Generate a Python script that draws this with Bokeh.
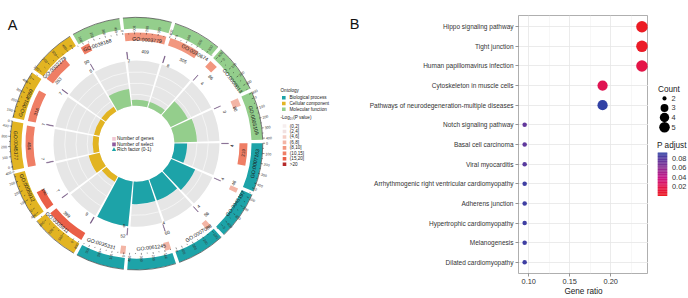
import math
from bokeh.plotting import figure
from bokeh.models import (Range1d, FactorRange, LinearColorMapper, ColumnDataSource,
                          FixedTicker, NumeralTickFormatter)
from bokeh.layouts import row
from bokeh.embed import file_html
from bokeh.resources import INLINE
from bokeh.core.properties import value
from bokeh.transform import transform

FONT = "Liberation Sans"

# ---------------- Panel A data (sectors clockwise, starting at 3 o'clock) ----------------
go_ids = ["GO:0007163", "GO:0045197", "GO:0007088", "GO:0061245", "GO:0035331",
          "GO:0005911", "GO:0005912", "GO:0045177", "GO:0014069", "GO:0032279",
          "GO:0038168", "GO:0003779", "GO:0030674", "GO:0008013", "GO:0005109"]
ontology = ["BP", "BP", "BP", "BP", "BP", "CC", "CC", "CC", "CC", "CC", "MF", "MF", "MF", "MF", "MF"]
gene_num = [219, 46, 56, 60, 52, 399, 192, 404, 316, 263, 90, 409, 305, 86, 80]
select_num = [4, 4, 4, 4, 5, 9, 7, 7, 7, 7, 5, 7, 8, 4, 3]
rich_factor = [0.28, 0.58, 0.50, 0.50, 1.00, 0.13, 0.25, 0.13, 0.12, 0.12, 0.38, 0.13, 0.13, 0.42, 0.50]
logp_level = [5, 3, 3, 3, 3, 6, 6, 5, 5, 5, 5, 4, 4, 4, 3]
axis_ticks = [0, 100, 200, 300, 400]
axis_minor = [50, 150, 250, 350]
axis_max = 420
ont_keys = ["BP", "CC", "MF"]
ont_names = ["Biological process", "Cellular component", "Molecular function"]
logp_labels = ["(0,2]", "(2,4]", "(4,6]", "(6,8]", "(8,10]", "(10,15]", "(15,20]", ">20"]
center_legend = ["Number of genes", "Number of select", "Rich factor (0-1)"]

# ---------------- Panel B data ----------------
pathways = ["Hippo signaling pathway", "Tight junction", "Human papillomavirus infection",
            "Cytoskeleton in muscle cells", "Pathways of neurodegeneration-multiple diseases",
            "Notch signaling pathway", "Basal cell carcinoma", "Viral myocarditis",
            "Arrhythmogenic right ventricular cardiomyopathy", "Adherens junction",
            "Hypertrophic cardiomyopathy", "Melanogenesis", "Dilated cardiomyopathy"]
gene_ratio = [0.238, 0.238, 0.238, 0.190, 0.190, 0.095, 0.095, 0.095, 0.095, 0.095, 0.095, 0.095, 0.095]
counts = [5, 5, 5, 4, 4, 2, 2, 2, 2, 2, 2, 2, 2]
p_adjust = [0.0005, 0.002, 0.018, 0.022, 0.0915, 0.075, 0.076, 0.079, 0.087, 0.087, 0.087, 0.087, 0.087]
x_ticks = [0.10, 0.15, 0.20]
x_minor = [0.125, 0.175, 0.225]
count_levels = [2, 3, 4, 5]
cbar_ticks = [0.02, 0.04, 0.06, 0.08]

# ---------------- styles ----------------
ONT_COL = {"BP": "#1DA3A8", "CC": "#E2B422", "MF": "#94CE8C"}
LOGP_COL = ["#F6EEEE", "#F1E1E1", "#F5CFC6", "#F3B5A5", "#F2977F", "#EF7E65", "#EA5F47", "#B52A2A"]
TXT = "#333333"

GAP = 1.6
START = 89.0
STEP = 360.0 / len(go_ids)


def sec_bounds(i):
    a0 = START + STEP * i + GAP / 2
    return a0, a0 + STEP - GAP


def bk(theta):
    return math.radians(90.0 - theta)


def pol(r, theta):
    t = math.radians(theta)
    return r * math.sin(t), r * math.cos(t)


def tangent(theta):
    th = theta % 360
    if 90 < th < 270:
        return math.radians(180 - th)
    return math.radians(-th)


def radial(theta):
    th = theta % 360
    if th <= 180:
        return math.radians(90 - th), "left"
    return math.radians(270 - th), "right"


def to_theta(i, v):
    a0, a1 = sec_bounds(i)
    return a0 + (a1 - a0) * v / axis_max


# ======================= Panel A (page x 0..359) =======================
WA = 359
pA = figure(width=WA, height=298, x_range=Range1d(-136, WA - 136), y_range=Range1d(-150, 148),
            output_backend="svg", toolbar_location=None, x_axis_type=None, y_axis_type=None,
            min_border=0, outline_line_color=None)

n = len(go_ids)
ring = dict(s=[], e=[], c=[])
gray = dict(s=[], e=[])
bars = dict(s=[], e=[], c=[], r=[])
box = dict(s=[], e=[], c=[])
sel = dict(s=[], e=[])
for i in range(n):
    a0, a1 = sec_bounds(i)
    ring["s"].append(bk(a1)); ring["e"].append(bk(a0)); ring["c"].append(ONT_COL[ontology[i]])
    gray["s"].append(bk(a1)); gray["e"].append(bk(a0))
    bars["s"].append(bk(a1)); bars["e"].append(bk(a0)); bars["c"].append(ONT_COL[ontology[i]])
    bars["r"].append(38 + 45 * rich_factor[i])
    g1 = to_theta(i, gene_num[i])
    box["s"].append(bk(g1)); box["e"].append(bk(a0)); box["c"].append(LOGP_COL[logp_level[i]])
    s1 = to_theta(i, select_num[i])
    sel["s"].append(bk(s1)); sel["e"].append(bk(a0))

pA.annular_wedge(x=0, y=0, inner_radius=115, outer_radius=126, start_angle="s", end_angle="e",
                 fill_color="c", line_color=None, source=ColumnDataSource(ring))
pA.arc(x=0, y=0, radius=126.3, start_angle=ring["s"], end_angle=ring["e"], line_color="#222222",
       line_width=0.6)
pA.annular_wedge(x=0, y=0, inner_radius=38, outer_radius=83, start_angle="s", end_angle="e",
                 fill_color="#E6E6E6", line_color=None, source=ColumnDataSource(gray))
for rr in (49.25, 60.5, 71.75):
    pA.arc(x=0, y=0, radius=rr, start_angle=gray["s"], end_angle=gray["e"], line_color="white",
           line_width=0.7, line_alpha=0.8)
pA.annular_wedge(x=0, y=0, inner_radius=38, outer_radius="r", start_angle="s", end_angle="e",
                 fill_color="c", line_color=None, source=ColumnDataSource(bars))
pA.annular_wedge(x=0, y=0, inner_radius=103, outer_radius=111, start_angle="s", end_angle="e",
                 fill_color="c", line_color=None, source=ColumnDataSource(box))
pA.annular_wedge(x=0, y=0, inner_radius=85, outer_radius=92, start_angle="s", end_angle="e",
                 fill_color="#6B4C7A", line_color="#6B4C7A", line_width=0.4,
                 source=ColumnDataSource(sel))

tx = dict(x=[], y=[], t=[], a=[])
gx = dict(x=[], y=[], t=[], a=[])
sx = dict(x=[], y=[], t=[], a=[])
tk = dict(x0=[], y0=[], x1=[], y1=[])
tl = dict(x=[], y=[], t=[], a=[], al=[])
for i in range(n):
    a0, a1 = sec_bounds(i)
    mid = (a0 + a1) / 2
    x, y = pol(120.5, mid)
    tx["x"].append(x); tx["y"].append(y); tx["t"].append(go_ids[i]); tx["a"].append(tangent(mid))
    gm = (a0 + to_theta(i, gene_num[i])) / 2
    x, y = pol(107, gm)
    gx["x"].append(x); gx["y"].append(y); gx["t"].append(str(gene_num[i])); gx["a"].append(tangent(gm))
    sm = a0 + 1.6
    x, y = pol(95.5, sm)
    sx["x"].append(x); sx["y"].append(y); sx["t"].append(str(select_num[i])); sx["a"].append(tangent(sm))
    for v in axis_ticks + axis_minor:
        th = to_theta(i, v)
        ln = 2.2 if v in axis_ticks else 1.2
        x0, y0 = pol(126.3, th)
        x1, y1 = pol(126.3 + ln, th)
        tk["x0"].append(x0); tk["y0"].append(y0); tk["x1"].append(x1); tk["y1"].append(y1)
    for v in axis_ticks:
        th = to_theta(i, v)
        x, y = pol(129.5, th)
        ang, al = radial(th)
        tl["x"].append(x); tl["y"].append(y); tl["t"].append(str(v)); tl["a"].append(ang); tl["al"].append(al)

pA.segment(x0="x0", y0="y0", x1="x1", y1="y1", line_color="#222222", line_width=0.5,
           source=ColumnDataSource(tk))
pA.text(x="x", y="y", text="t", angle="a", text_align="al", text_baseline="middle",
        text_font=value(FONT), text_font_size=value("3.6px"), text_color=TXT, source=ColumnDataSource(tl))
pA.text(x="x", y="y", text="t", angle="a", text_align="center", text_baseline="middle",
        text_font=value(FONT), text_font_size=value("5.2px"), text_color="#1a1a1a",
        source=ColumnDataSource(tx))
pA.text(x="x", y="y", text="t", angle="a", text_align="center", text_baseline="middle",
        text_font=value(FONT), text_font_size=value("4.6px"), text_color="#222222",
        source=ColumnDataSource(gx))
pA.text(x="x", y="y", text="t", angle="a", text_align="center", text_baseline="middle",
        text_font=value(FONT), text_font_size=value("4.4px"), text_color="#222222",
        source=ColumnDataSource(sx))

# center legend
cl_y = [5.5, -0.8, -7.1]
pA.scatter(x=[-22.5] * 3, y=cl_y, marker=["square", "square", "triangle"], size=[3.6, 3.6, 4.2],
           fill_color=["#F2C7D4", "#8E5A9E", "#1DA3A8"], line_color=None)
pA.text(x=[-19.5] * 3, y=cl_y, text=center_legend, text_align="left", text_baseline="middle",
        text_font=value(FONT), text_font_size=value("4.8px"), text_color="#222222")

# right legend
pA.text(x=[144], y=[61.5], text=["Ontology"], text_align="left", text_baseline="middle",
        text_font=value(FONT), text_font_size=value("4.6px"), text_color="#222222")
oy = [53, 46.3, 39.7]
pA.scatter(x=[147.3] * 3, y=oy, marker="square", size=3.6,
           fill_color=[ONT_COL[k] for k in ont_keys], line_color=None)
pA.text(x=[153] * 3, y=oy, text=ont_names, text_align="left", text_baseline="middle",
        text_font=value(FONT), text_font_size=value("4.6px"), text_color="#222222")
pA.text(x=[144], y=[30.3], text=["-Log\u2081\u2080(P value)"], text_align="left", text_baseline="middle",
        text_font=value(FONT), text_font_size=value("4.6px"), text_color="#222222")
ly = [20.3 - 6.3 * k for k in range(len(logp_labels))]
pA.scatter(x=[148] * len(ly), y=ly, marker="square", size=3.6, fill_color=LOGP_COL, line_color=None)
pA.text(x=[153.3] * len(ly), y=ly, text=logp_labels, text_align="left", text_baseline="middle",
        text_font=value(FONT), text_font_size=value("4.6px"), text_color="#222222")

# panel letters (page (12,10) and (354,9))
pA.text(x=[12 - 136, 354 - 136], y=[148 - 10.5, 148 - 9.5], text=["A", "B"], text_align="center",
        text_baseline="middle", text_font=value(FONT), text_font_size=value("14.5px"), text_color="#111111")

# ======================= Panel B (page x 359..648) =======================
pal_anchor = [(0.0, (236, 28, 36)), (0.2, (228, 20, 72)), (0.42, (200, 20, 135)),
              (0.65, (140, 45, 145)), (0.85, (92, 58, 158)), (1.0, (50, 66, 165))]
palette = []
for k in range(256):
    t = k / 255
    for (t0, c0), (t1, c1) in zip(pal_anchor[:-1], pal_anchor[1:]):
        if t0 <= t <= t1:
            f = (t - t0) / (t1 - t0)
            c = tuple(int(round(c0[j] + (c1[j] - c0[j]) * f)) for j in range(3))
            palette.append("#%02x%02x%02x" % c)
            break
mapper = LinearColorMapper(palette=palette, low=min(p_adjust), high=max(p_adjust))

cmin, cmax = min(counts), max(counts)


def dot_size(c):
    return 4.5 + 7.0 * math.sqrt((c - cmin) / (cmax - cmin))


WB = 648 - WA
pB = figure(width=WB, height=298, output_backend="svg", toolbar_location=None,
            y_range=FactorRange(factors=pathways[::-1], range_padding=0.07, range_padding_units="absolute"),
            x_range=Range1d(0.0875, 0.246),
            min_border_left=518 - WA, min_border_right=0, min_border_top=15, min_border_bottom=24)
srcB = ColumnDataSource(dict(x=gene_ratio, y=pathways, s=[dot_size(c) for c in counts], p=p_adjust))
pB.scatter(x="x", y="y", size="s", fill_color=transform("p", mapper), line_color=None, source=srcB)

pB.outline_line_color = "#9a9a9a"
pB.outline_line_width = 0.8
pB.xaxis.ticker = FixedTicker(ticks=x_ticks, minor_ticks=x_minor)
pB.xaxis.formatter = NumeralTickFormatter(format="0.00")
for ax in (pB.xaxis[0], pB.yaxis[0]):
    ax.axis_line_color = None
    ax.major_tick_in = 0
    ax.major_tick_out = 3
    ax.major_tick_line_color = "#4d4d4d"
    ax.major_tick_line_width = 0.6
    ax.minor_tick_line_color = None
    ax.major_label_text_font = FONT
    ax.major_label_text_color = TXT
pB.xaxis.major_label_text_font_size = "7.4px"
pB.xaxis.major_label_standoff = 1
pB.xaxis.axis_label = "Gene ratio"
pB.xaxis.axis_label_text_font = FONT
pB.xaxis.axis_label_text_font_size = "8.2px"
pB.xaxis.axis_label_text_font_style = "normal"
pB.xaxis.axis_label_text_color = "#222222"
pB.xaxis.axis_label_standoff = 0
pB.yaxis.major_label_text_font_size = "6.5px"
pB.yaxis.major_label_standoff = 2
pB.xgrid.grid_line_color = "#E6E6E6"
pB.xgrid.grid_line_width = 0.8
pB.xgrid.minor_grid_line_color = "#F2F2F2"
pB.xgrid.minor_grid_line_width = 0.6
pB.ygrid.grid_line_color = "#E6E6E6"
pB.ygrid.grid_line_width = 0.8

# ======================= Panel B legends (page x 648..688) =======================
pL = figure(width=688 - 648, height=298, x_range=Range1d(648, 688), y_range=Range1d(298, 0),
            output_backend="svg", toolbar_location=None, x_axis_type=None, y_axis_type=None,
            min_border=0, outline_line_color=None)
pL.text(x=[657.5], y=[85.5], text=["Count"], text_align="left", text_baseline="middle",
        text_font=value(FONT), text_font_size=value("8.2px"), text_color="#222222")
cy = [95.8, 106.8, 117.8, 129.0]
pL.scatter(x=[664] * 4, y=cy, size=[dot_size(c) * 0.92 for c in count_levels], fill_color="black",
           line_color=None)
pL.text(x=[671] * 4, y=cy, text=[str(c) for c in count_levels], text_align="left",
        text_baseline="middle", text_font=value(FONT), text_font_size=value("7.4px"), text_color=TXT)
pL.text(x=[656.5], y=[150.5], text=["P adjust"], text_align="left", text_baseline="middle",
        text_font=value(FONT), text_font_size=value("8.2px"), text_color="#222222")
vlo, vhi = min(p_adjust), max(p_adjust)
ytop, ybot = 158.3, 208.3
nseg = 60
segv = [vlo + (vhi - vlo) * (k + 0.5) / nseg for k in range(nseg)]
segy = [ybot - (v - vlo) / (vhi - vlo) * (ybot - ytop) for v in segv]
pL.rect(x="x", y="y", width=9.5, height=(ybot - ytop) / nseg + 0.3,
        source=ColumnDataSource(dict(x=[662] * nseg, y=segy, v=segv)),
        fill_color=transform("v", mapper), line_color=None)
ty = [ybot - (v - vlo) / (vhi - vlo) * (ybot - ytop) for v in cbar_ticks]
pL.text(x=[671.5] * len(ty), y=ty, text=["%.2f" % v for v in cbar_ticks], text_align="left",
        text_baseline="middle", text_font=value(FONT), text_font_size=value("7.4px"), text_color=TXT)

layout = row(pA, pB, pL)
open("out.html", "w").write(file_html(layout, INLINE))
